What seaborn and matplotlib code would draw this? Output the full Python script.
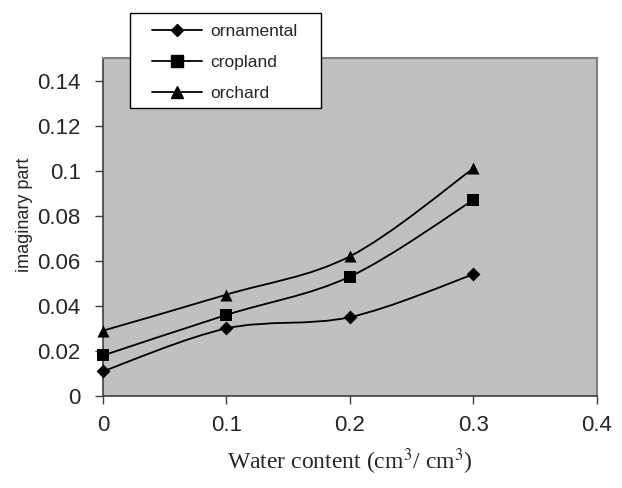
import numpy as np
import pandas as pd
import seaborn as sns
from matplotlib import pylab as plt
from matplotlib.path import Path
from matplotlib.patches import PathPatch, Rectangle
from matplotlib.lines import Line2D

water = [0.0, 0.1, 0.2, 0.3]
ornamental = [0.011, 0.030, 0.035, 0.054]
cropland = [0.018, 0.036, 0.053, 0.087]
orchard = [0.029, 0.045, 0.062, 0.101]

series_names = ["ornamental", "cropland", "orchard"]
markers = {"ornamental": "D", "cropland": "s", "orchard": "^"}
marker_sizes = {"ornamental": 50, "cropland": 65, "orchard": 75}


def smooth_path(x, y):
    # Excel-style smoothed line: cubic Bezier segments with Catmull-Rom tangents
    x = np.asarray(x, dtype=float)
    y = np.asarray(y, dtype=float)
    n = len(x)
    verts = [(x[0], y[0])]
    codes = [Path.MOVETO]
    for i in range(n - 1):
        p0 = np.array([x[max(i - 1, 0)], y[max(i - 1, 0)]])
        p1 = np.array([x[i], y[i]])
        p2 = np.array([x[i + 1], y[i + 1]])
        p3 = np.array([x[min(i + 2, n - 1)], y[min(i + 2, n - 1)]])
        c1 = p1 + (p2 - p0) / 6.0
        c2 = p2 - (p3 - p1) / 6.0
        verts += [tuple(c1), tuple(c2), tuple(p2)]
        codes += [Path.CURVE4] * 3
    return Path(verts, codes)


df = pd.DataFrame({
    "water": water * 3,
    "value": ornamental + cropland + orchard,
    "series": [s for s in series_names for _ in water],
})

sns.set_style("ticks")
plt.rcParams["font.family"] = ["Liberation Sans", "DejaVu Sans"]
plt.rcParams["mathtext.fontset"] = "stix"

fig = plt.figure(figsize=(6.22, 4.88), dpi=100)
ax = fig.add_axes([0.1656, 0.1885, 0.794, 0.6926])
ax.set_facecolor("#c0c0c0")

for name, vals in zip(series_names, [ornamental, cropland, orchard]):
    ax.add_patch(PathPatch(smooth_path(water, vals), facecolor="none",
                           edgecolor="black", lw=1.3, zorder=2))

for name in series_names:
    sub = df[df["series"] == name]
    sns.scatterplot(data=sub, x="water", y="value", marker=markers[name],
                    s=marker_sizes[name], color="black", edgecolor="black",
                    linewidth=0, ax=ax, zorder=3, clip_on=False)

ax.set_xlim(0, 0.4)
ax.set_ylim(0, 0.15)
ax.set_xticks([0, 0.1, 0.2, 0.3, 0.4])
ax.set_xticklabels(["0", "0.1", "0.2", "0.3", "0.4"])
ax.set_yticks(np.arange(0, 0.141, 0.02))
ax.set_yticklabels(["0", "0.02", "0.04", "0.06", "0.08", "0.1", "0.12", "0.14"])
ax.tick_params(axis="both", labelsize=16, length=6, width=1, color="#404040",
               direction="out", pad=10)
ax.tick_params(axis="x", pad=8)

for side in ["top", "right"]:
    ax.spines[side].set_visible(True)
    ax.spines[side].set_color("#808080")
    ax.spines[side].set_linewidth(1.5)
for side in ["left", "bottom"]:
    ax.spines[side].set_color("#404040")
    ax.spines[side].set_linewidth(1.2)

ax.set_xlabel("Water content (cm$^3$/ cm$^3$)", fontsize=17,
              family="Liberation Serif", labelpad=7)
ax.set_ylabel("imaginary part", fontsize=13)
ax.yaxis.set_label_coords(-0.142, 0.535)

# legend box, drawn as in the original (wider side padding than top/bottom)
fig.patches.append(Rectangle((130 / 622, 1 - 108 / 488), 191 / 622, 95 / 488,
                             transform=fig.transFigure, facecolor="white",
                             edgecolor="black", lw=1.0, zorder=4))
handles = [Line2D([0], [0], color="black", lw=1.3, marker=markers[n],
                  markersize=6.5 if n == "ornamental" else 8) for n in series_names]
leg = fig.legend(handles, series_names, loc="upper left",
                 bbox_to_anchor=(152 / 622, 1 - 24 / 488), bbox_transform=fig.transFigure,
                 frameon=False, fontsize=12.5, handlelength=2.9, labelspacing=0.9,
                 borderpad=0, handletextpad=0.45, borderaxespad=0)
leg.set_zorder(5)

fig.savefig("out.png", dpi=100)
